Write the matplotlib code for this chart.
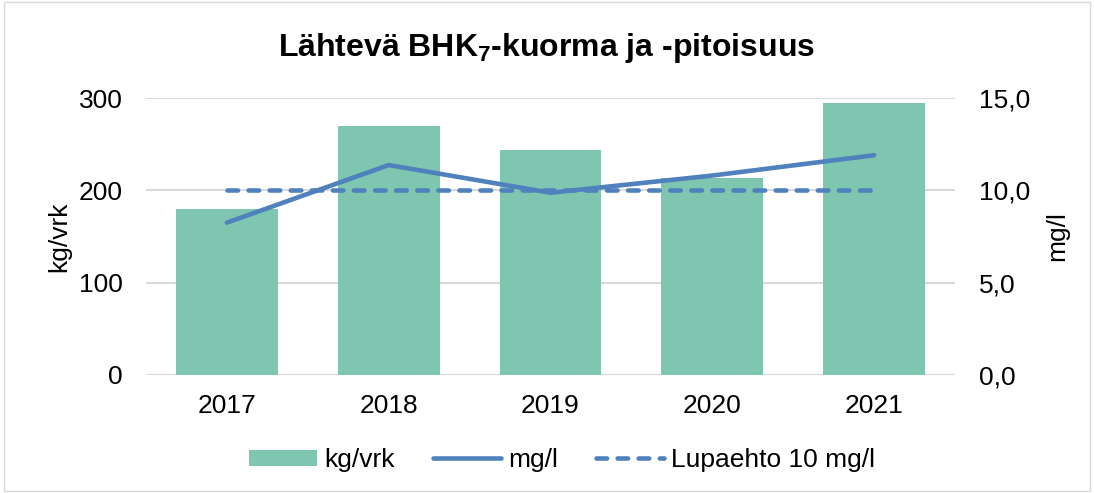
import matplotlib
matplotlib.use("Agg")
import matplotlib.pyplot as plt
from matplotlib.patches import Rectangle
from matplotlib.lines import Line2D
from matplotlib.patches import Patch

years = ["2017", "2018", "2019", "2020", "2021"]
kg_vrk = [180, 270, 244, 213, 295]
mg_l = [8.25, 11.37, 9.87, 10.8, 11.9]
lupaehto = [10, 10, 10, 10, 10]

plt.rcParams['font.family'] = ['Liberation Sans', 'DejaVu Sans']
plt.rcParams['mathtext.fontset'] = 'custom'
plt.rcParams['mathtext.rm'] = 'Liberation Sans:bold'

BAR = '#7FC6B1'
LINE = '#4F81BD'
GRID = '#D9D9D9'
FS = 19
LW = 3.3
DASH = (0, (2.3, 2.3))

fig = plt.figure(figsize=(10.94, 4.93), dpi=100)
fig.patches.append(Rectangle((0.004, 0.004), 0.992, 0.992, transform=fig.transFigure,
                             fill=False, edgecolor='#D9D9D9', linewidth=1.0))
ax = fig.add_axes([146/1094, 1-375/493, (955-146)/1094, (375-98)/493])
x = list(range(len(years)))
ax.bar(x, kg_vrk, width=0.63, color=BAR, zorder=2, label='kg/vrk')
ax.set_ylim(0, 300)
ax.set_xlim(-0.5, len(years)-0.5)
ax.set_yticks([0, 100, 200, 300])
ax.set_xticks(x)
ax.set_xticklabels(years)
ax.grid(axis='y', color=GRID, linewidth=1.5, zorder=0)
ax.set_axisbelow(True)
for s in ax.spines.values():
    s.set_visible(False)
ax.tick_params(length=0, labelsize=FS, pad=14)
ax.tick_params(axis='y', pad=17)
ax.set_ylabel('kg/vrk', fontsize=FS, labelpad=5)

ax2 = ax.twinx()
ax2.plot(x, mg_l, color=LINE, linewidth=LW, solid_capstyle='round', solid_joinstyle='round', zorder=3)
ax2.plot(x, lupaehto, color=LINE, linewidth=LW, linestyle=DASH,
         dash_capstyle='round', zorder=3)
ax2.set_ylim(0, 15)
ax2.set_yticks([0, 5, 10, 15])
ax2.set_yticklabels(['0,0', '5,0', '10,0', '15,0'])
for s in ax2.spines.values():
    s.set_visible(False)
ax2.tick_params(length=0, labelsize=FS, pad=17)
ax2.set_ylabel('mg/l', fontsize=FS, labelpad=11)

fig.text(0.5, 1-48/493, r'Lähtevä BHK$_\mathrm{7}$-kuorma ja -pitoisuus', ha='center', va='center',
         fontsize=23, fontweight='bold')

handles = [Patch(facecolor=BAR, edgecolor='none'),
           Line2D([0], [0], color=LINE, linewidth=LW, solid_capstyle='round'),
           Line2D([0], [0], color=LINE, linewidth=LW, linestyle=DASH, dash_capstyle='round')]
fig.legend(handles, ['kg/vrk', 'mg/l', 'Lupaehto 10 mg/l'], loc='center',
           bbox_to_anchor=(0.514, 1-460/493), ncol=3, frameon=False, fontsize=FS,
           handlelength=2.58, handletextpad=0.27, columnspacing=1.44, handleheight=0.55)

fig.savefig('out.png', dpi=100)
